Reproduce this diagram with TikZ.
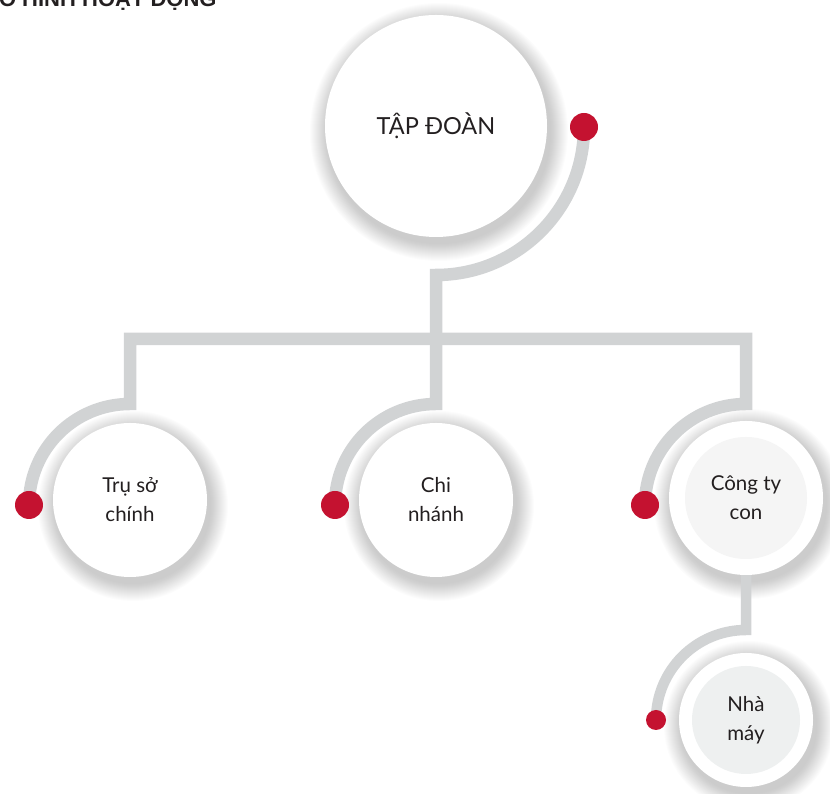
\documentclass[tikz,border=0pt]{standalone}
\usepackage{fontspec}
\setmainfont{Lato}
\newfontfamily\titlefont{Liberation Sans}
\definecolor{linegray}{HTML}{D1D3D4}
\definecolor{dotred}{HTML}{C41230}
\definecolor{txt}{HTML}{231F20}
\definecolor{innerA}{HTML}{F5F5F5}
\definecolor{innerB}{HTML}{EEF0F0}
\newcommand\bubshadow[3]{%
  \foreach \k in {0,...,17}{\fill[black,opacity=0.012] (#1+3,#2-6) circle ({#3+18-\k});}}
\begin{document}
\begin{tikzpicture}[x=1pt,y=1pt,
  conn/.style={draw=linegray,line width=12.5pt},
  reddot/.style={circle,fill=dotred,inner sep=0pt,minimum size=28pt},
  bubble/.style={circle,fill=white,inner sep=0pt,text=txt,align=center,font=\fontsize{20.5}{29}\selectfont},
  innerdisk/.style={circle,inner sep=0pt,text=txt,align=center,font=\fontsize{20.5}{29}\selectfont}]
\useasboundingbox (0,0) rectangle (830,794);
\clip (0,0) rectangle (830,794);
% title
\node[anchor=base west,inner sep=0pt,text=txt,font=\titlefont\bfseries\fontsize{22}{26}\selectfont] (title) at (-19.5,787) {MÔ HÌNH HOẠT ĐỘNG};
% shadows
\bubshadow{436}{668}{111}
\bubshadow{130}{294}{77}
\bubshadow{436}{294}{77}
\bubshadow{746}{296}{77}
\bubshadow{746}{74}{67}
% dots positions
\coordinate (p0) at (584,667);
\coordinate (p1) at (29,289);
\coordinate (p2) at (335,289);
\coordinate (p3) at (645,289);
\coordinate (p4) at (656,74);
\coordinate (bar) at (436,455);
\coordinate (l1) at (130,455);
\coordinate (r1) at (746,455);
\coordinate (b1) at (746,164);
% connectors
\draw[conn] (p0) arc[start angle=0,end angle=-90,radius=148] -- (bar);
\draw[conn,line join=miter] (p1) arc[start angle=180,end angle=90,radius=101] -- (l1) -- (r1) -- (746,390) arc[start angle=90,end angle=180,radius=101];
\draw[conn] (bar) -- (436,390) arc[start angle=90,end angle=180,radius=101];
% bubbles
\node[bubble,minimum size=222pt,font=\fontsize{23.5}{28}\selectfont] (tap) at (436,668) {TẬP ĐOÀN};
\node[bubble,minimum size=154pt] (tru) at (130,294) {Trụ sở\\chính};
\node[bubble,minimum size=154pt] (chi) at (436,294) {Chi\\nhánh};
\node[bubble,minimum size=154pt] (cty) at (746,296) {};
\draw[conn,line width=10.5pt] (cty.south) -- (b1) arc[start angle=90,end angle=180,radius=90];
\node[innerdisk,fill=innerA,minimum size=122pt] (ctyin) at (cty.center) {Công ty\\con};
\node[bubble,minimum size=134pt] (nha) at (746,74) {};
\node[innerdisk,fill=innerB,minimum size=108pt] (nhain) at (nha.center) {Nhà\\máy};
% red dots
\node[reddot] (d0) at (p0) {};
\node[reddot] (d1) at (p1) {};
\node[reddot] (d2) at (p2) {};
\node[reddot] (d3) at (p3) {};
\node[reddot,minimum size=20pt] (d4) at (p4) {};
\end{tikzpicture}
\end{document}
